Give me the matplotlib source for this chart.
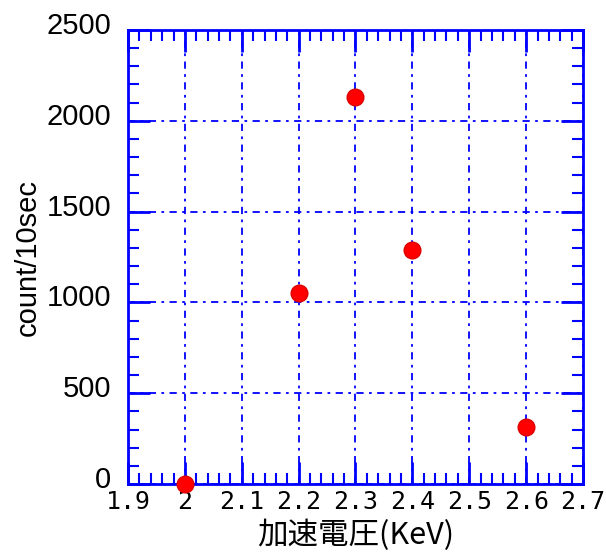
import matplotlib
matplotlib.use('Agg')
import matplotlib.pyplot as plt
from matplotlib.ticker import MultipleLocator
import matplotlib.transforms as mtransforms

# accelerating voltage (keV) vs counts per 10 sec
voltage = [2.0, 2.2, 2.3, 2.4, 2.6]
counts = [0, 1053, 2131, 1289, 314]

x_ticks = [1.9, 2.0, 2.1, 2.2, 2.3, 2.4, 2.5, 2.6, 2.7]
x_ticklabels = ['1.9', '2', '2.1', '2.2', '2.3', '2.4', '2.5', '2.6', '2.7']
y_ticks = [0, 500, 1000, 1500, 2000, 2500]

blue = '#0000ff'

fig = plt.figure(figsize=(6.06, 5.6), dpi=100)
ax = fig.add_axes([128 / 606, 76 / 560, 455 / 606, 454 / 560])

ax.plot(voltage, counts, 'o', color='#ff0000', markersize=12,
        markeredgecolor='#dd0000', clip_on=False, zorder=5)

ax.set_xlim(1.9, 2.7)
ax.set_ylim(0, 2500)
ax.set_xticks(x_ticks)
ax.set_xticklabels(x_ticklabels, family='DejaVu Sans Mono', fontsize=18)
ax.set_yticks(y_ticks)
ax.set_yticklabels([str(v) for v in y_ticks],
                   family='Liberation Sans', fontsize=21)
ax.xaxis.set_minor_locator(MultipleLocator(0.02))
ax.yaxis.set_minor_locator(MultipleLocator(100))

ax.tick_params(which='both', direction='in', color=blue, width=1.5,
               top=True, right=True)
ax.tick_params(which='major', length=16, width=2)
ax.tick_params(which='minor', length=8)
ax.tick_params(axis='x', pad=4)
ax.tick_params(axis='y', pad=12)

# y labels sit slightly above their ticks
offset = mtransforms.ScaledTranslation(0, 7 / 100, fig.dpi_scale_trans)
for lbl in ax.get_yticklabels():
    lbl.set_transform(lbl.get_transform() + offset)

for sp in ax.spines.values():
    sp.set_color(blue)
    sp.set_linewidth(2)

ax.grid(True, which='major', color=blue, linewidth=1.3,
        linestyle=(0, (4, 3, 1.5, 3)))

ax.set_ylabel('count/10sec', family='Liberation Sans', fontsize=21)
ax.yaxis.set_label_coords(-0.19, 0.5)
ax.set_xlabel('加速電圧(KeV)', family=['Noto Sans CJK JP', 'DejaVu Sans'],
              fontsize=22, labelpad=4)

fig.savefig('out.png', dpi=100)
